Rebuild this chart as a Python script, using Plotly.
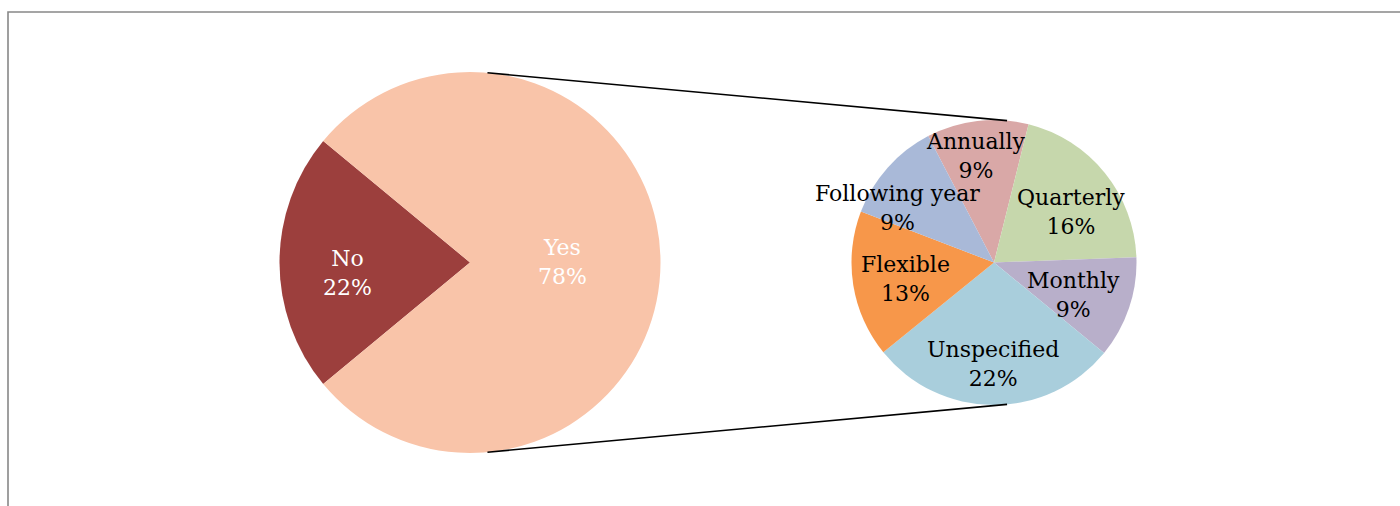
import math
import plotly.graph_objects as go

# Primary question: share of respondents answering Yes / No
main_labels = ["No", "Yes"]
main_values = [22, 78]

# Breakdown of the "Yes" share (percent of all respondents)
sub_labels = ["Annually", "Quarterly", "Monthly", "Unspecified", "Flexible", "Following year"]
sub_values = [9, 16, 9, 22, 13, 9]

W, H = 1400, 506

main_colors = ["#9C3F3D", "#F9C4A9"]
sub_colors = ["#D9A8A7", "#C6D7AC", "#B8AFCA", "#A9CEDC", "#F7974A", "#A9B9D8"]

# Pie geometry in pixels (centre x, centre y from top, radius)
L_CX, L_CY, L_R = 470.0, 262.5, 190.5
R_CX, R_CY, R_R = 994.0, 262.5, 142.5

main_rotation = 270 - 360 * main_values[0] / sum(main_values) / 2
sub_rotation = -27.5

FONT = "DejaVu Serif"
FSIZE = 22

# Pixel nudges applied to each label after radial placement
main_nudge = [(7, 10), (-37, 0)]
sub_nudge = [(-7, -10), (2, 11), (-12, 2), (-1, 5), (7, 1), (-24, 10)]
LABEL_FRAC = 0.68


def px(x):
    return x / W


def py(y):
    return 1 - y / H


def domain(cx, cy, r):
    return dict(x=[px(cx - r), px(cx + r)], y=[py(cy + r), py(cy - r)])


fig = go.Figure()
fig.add_trace(go.Pie(
    labels=main_labels, values=main_values, sort=False, direction="clockwise",
    rotation=main_rotation, marker=dict(colors=main_colors, line=dict(width=0)),
    textinfo="none", hoverinfo="label+percent", showlegend=False,
    domain=domain(L_CX, L_CY, L_R),
))
fig.add_trace(go.Pie(
    labels=sub_labels, values=sub_values, sort=False, direction="clockwise",
    rotation=sub_rotation, marker=dict(colors=sub_colors, line=dict(width=0)),
    textinfo="none", hoverinfo="label+value", showlegend=False,
    domain=domain(R_CX, R_CY, R_R),
))


def label_annotations(labels, values, rotation, cx, cy, r, nudges, color, total):
    anns = []
    s = sum(values)
    cum = 0.0
    for lab, v, (nx, ny) in zip(labels, values, nudges):
        mid = rotation + 360 * (cum + v / 2) / s
        cum += v
        a = math.radians(mid)
        x = cx + LABEL_FRAC * r * math.sin(a) + nx
        y = cy - LABEL_FRAC * r * math.cos(a) + ny
        pct = round(100 * v / total)
        anns.append(dict(
            x=px(x), y=py(y), xref="paper", yref="paper",
            text=f"{lab}<br>{pct}%", showarrow=False,
            xanchor="center", yanchor="middle", align="center",
            font=dict(family=FONT, size=FSIZE, color=color),
        ))
    return anns


total = sum(main_values)
annotations = label_annotations(main_labels, main_values, main_rotation,
                                L_CX, L_CY, L_R, main_nudge, "white", total)
annotations += label_annotations(sub_labels, sub_values, sub_rotation,
                                 R_CX, R_CY, R_R, sub_nudge, "black", total)

# Connector lines: outer common tangents of the two pies
d = R_CX - L_CX
t = math.asin((L_R - R_R) / d)
shapes = []
for sgn in (-1, 1):
    x0 = L_CX + L_R * math.sin(t)
    y0 = L_CY + sgn * L_R * math.cos(t)
    x1 = R_CX + R_R * math.sin(t)
    y1 = R_CY + sgn * R_R * math.cos(t)
    shapes.append(dict(type="line", xref="paper", yref="paper",
                       x0=px(x0), y0=py(y0), x1=px(x1), y1=py(y1),
                       line=dict(color="black", width=1.6)))

# Chart frame
shapes.append(dict(type="rect", xref="paper", yref="paper",
                   x0=px(8), y0=py(H + 20), x1=px(W + 20), y1=py(12),
                   line=dict(color="#888888", width=1.6), layer="below"))

fig.update_layout(
    width=W, height=H,
    margin=dict(l=0, r=0, t=0, b=0),
    paper_bgcolor="white", plot_bgcolor="white",
    annotations=annotations, shapes=shapes,
)

fig.write_html("out.html")
